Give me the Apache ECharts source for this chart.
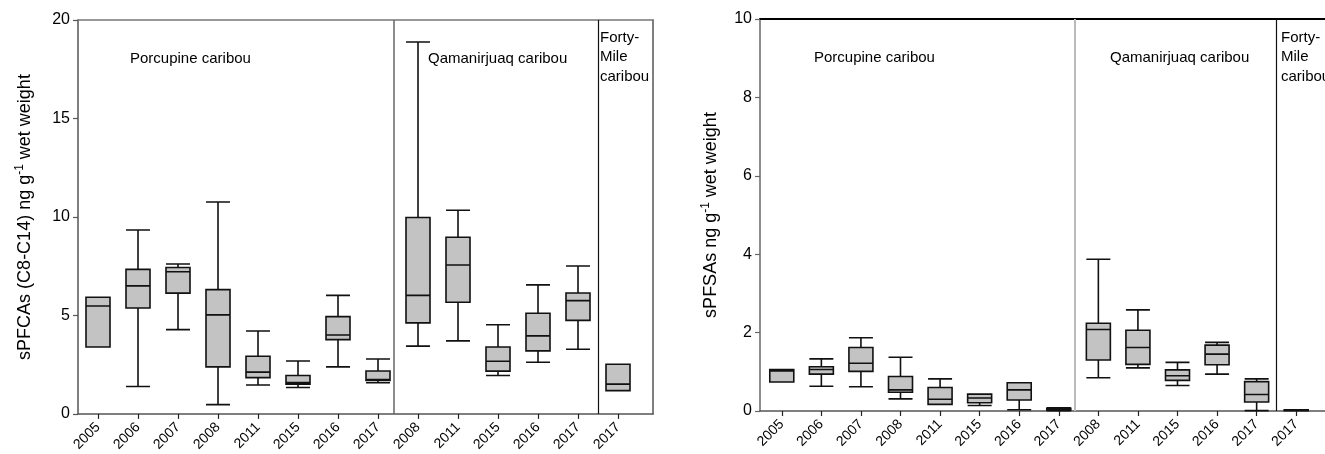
<!DOCTYPE html>
<html><head><meta charset="utf-8">
<script src="https://cdn.jsdelivr.net/npm/echarts@6/dist/echarts.min.js"></script>
<style>html,body{margin:0;padding:0;background:#fff}#c{width:1325px;height:454px}</style>
</head><body><div id="c"></div>
<script>
// ---- data ----
const categories = ['2005','2006','2007','2008','2011','2015','2016','2017','2008','2011','2015','2016','2017','2017'];
// each box: [min, Q1, median, Q3, max]
const pfcaBoxes = [
  [3.40, 3.40, 5.48, 5.92, 5.92],
  [1.39, 5.38, 6.50, 7.34, 9.34],
  [4.28, 6.13, 7.22, 7.43, 7.61],
  [0.47, 2.39, 5.03, 6.31, 10.76],
  [1.47, 1.84, 2.12, 2.93, 4.21],
  [1.34, 1.51, 1.59, 1.95, 2.69],
  [2.39, 3.77, 4.01, 4.94, 6.02],
  [1.58, 1.70, 1.75, 2.18, 2.79],
  [3.44, 4.62, 6.02, 9.97, 18.88],
  [3.71, 5.67, 7.56, 8.97, 10.34],
  [1.95, 2.17, 2.67, 3.40, 4.53],
  [2.62, 3.20, 3.96, 5.11, 6.55],
  [3.28, 4.75, 5.75, 6.14, 7.51],
  [1.18, 1.18, 1.51, 2.52, 2.52]
];
const pfsaBoxes = [
  [0.74, 0.74, 1.02, 1.06, 1.06],
  [0.63, 0.94, 1.06, 1.13, 1.33],
  [0.62, 1.01, 1.22, 1.62, 1.87],
  [0.31, 0.48, 0.54, 0.88, 1.37],
  [0.17, 0.17, 0.30, 0.60, 0.82],
  [0.14, 0.21, 0.33, 0.43, 0.43],
  [0.03, 0.28, 0.54, 0.72, 0.72],
  [0.01, 0.02, 0.04, 0.07, 0.08],
  [0.85, 1.30, 2.08, 2.24, 3.87],
  [1.10, 1.19, 1.62, 2.06, 2.58],
  [0.65, 0.78, 0.90, 1.05, 1.24],
  [0.94, 1.18, 1.45, 1.68, 1.75],
  [0.01, 0.23, 0.42, 0.75, 0.82],
  [0.01, 0.01, 0.02, 0.03, 0.03]
];
const pfcaTicks = { min: 0, max: 20, interval: 5 };
const pfsaTicks = { min: 0, max: 10, interval: 2 };
const dividerPos = [7.4, 12.5];
const groupLabels = ['Porcupine caribou', 'Qamanirjuaq caribou', 'Forty-\nMile\ncaribou'];
const pfcaTitle = '{a|sPFCAs (C8-C14) ng g}{s|-1}{a| wet weight}';
const pfsaTitle = '{a|sPFSAs ng g}{s|-1}{a| wet weight}';

// ---- chart ----
const FONT = '"Liberation Sans", Arial, sans-serif';
const chart = echarts.init(document.getElementById('c'), null, { renderer: 'canvas' });

const option = { animation: false, backgroundColor: '#fff', grid: [], xAxis: [], yAxis: [], series: [], graphic: [] };

function panel(p) {
  const gFrame = option.grid.length;
  option.grid.push({ left: p.left, top: p.top, width: p.frameWidth, height: p.height });
  const gData = option.grid.length;
  option.grid.push({ left: p.dataLeft, top: p.top, width: p.dataWidth, height: p.height });

  const xi = option.xAxis.length;
  // frame bottom & top lines
  option.xAxis.push({ gridIndex: gFrame, type: 'value', min: 0, max: 1, position: 'bottom',
    axisLine: { show: true, onZero: false, lineStyle: { color: p.bottomColor, width: 1.5 } },
    axisTick: { show: false }, axisLabel: { show: false }, splitLine: { show: false } });
  option.xAxis.push({ gridIndex: gFrame, type: 'value', min: 0, max: 1, position: 'top',
    axisLine: { show: true, onZero: false, lineStyle: { color: p.topColor, width: p.topWidth } },
    axisTick: { show: false }, axisLabel: { show: false }, splitLine: { show: false } });
  // category axis (data)
  option.xAxis.push({ gridIndex: gData, type: 'category', data: categories, position: 'bottom',
    axisLine: { show: false, onZero: false },
    axisTick: { show: true, alignWithLabel: true, length: 5, lineStyle: { color: '#222', width: 1.2 } },
    axisLabel: { interval: 0, rotate: 45, fontSize: 14, color: '#000', fontFamily: FONT, margin: 11 },
    splitLine: { show: false } });
  // hidden value axis for dividers
  option.xAxis.push({ gridIndex: gData, type: 'value', min: -0.5, max: categories.length - 0.5, show: false });

  const yi = option.yAxis.length;
  option.yAxis.push({ gridIndex: gFrame, type: 'value', min: p.ticks.min, max: p.ticks.max, interval: p.ticks.interval,
    position: 'left',
    name: p.title, nameLocation: 'middle', nameGap: p.nameGap,
    nameTextStyle: { color: '#000', fontFamily: FONT, fontSize: 18, lineHeight: 22,
      rich: { a: { fontSize: 18, fontFamily: FONT, color: '#000', lineHeight: 22 },
              s: { fontSize: 12, fontFamily: FONT, color: '#000', lineHeight: 12, verticalAlign: 'top' } } },
    axisLine: { show: true, onZero: false, lineStyle: { color: p.yColor, width: 1.5 } },
    axisTick: { show: true, length: 5, lineStyle: { color: p.yColor, width: 1.2 } },
    axisLabel: { fontSize: 16, color: '#000', fontFamily: FONT, margin: 8 },
    splitLine: { show: false } });
  option.yAxis.push({ gridIndex: gFrame, type: 'value', min: p.ticks.min, max: p.ticks.max, position: 'right',
    show: p.rightShow,
    axisLine: { show: true, onZero: false, lineStyle: { color: p.rightColor, width: 1.5 } },
    axisTick: { show: false }, axisLabel: { show: false }, splitLine: { show: false } });
  option.yAxis.push({ gridIndex: gData, type: 'value', min: p.ticks.min, max: p.ticks.max, show: false });

  option.series.push({
    type: 'boxplot', xAxisIndex: xi + 2, yAxisIndex: yi + 2,
    data: p.boxes, boxWidth: [24, 24], silent: true,
    itemStyle: { color: '#c3c3c3', borderColor: '#111', borderWidth: 1.6 },
    emphasis: { disabled: true }
  });
  option.series.push({
    type: 'line', xAxisIndex: xi + 3, yAxisIndex: yi + 2, data: [], silent: true,
    markLine: { symbol: 'none', silent: true, label: { show: false }, animation: false,
      data: dividerPos.map((v, i) => ({ xAxis: v, lineStyle: { type: 'solid', color: p.divColors[i], width: p.divWidths[i] } })) }
  });

  groupLabels.forEach((t, i) => {
    option.graphic.push({ type: 'text', left: p.labelX[i], top: p.labelY[i], silent: true,
      style: { text: t, fontSize: 15, fontFamily: FONT, fill: '#000', lineHeight: 19.5 } });
  });
}

panel({ left: 78, top: 20, height: 394, frameWidth: 575, dataLeft: 78, dataWidth: 560,
  ticks: pfcaTicks, title: pfcaTitle, nameGap: 42, boxes: pfcaBoxes,
  bottomColor: '#555', topColor: '#777', topWidth: 1.5, yColor: '#555', rightColor: '#555', rightShow: true,
  divColors: ['#666', '#111'], divWidths: [1.5, 1.2],
  labelX: [130, 428, 600], labelY: [49, 49, 28] });

panel({ left: 760, top: 19, height: 392, frameWidth: 575, dataLeft: 762, dataWidth: 554,
  ticks: pfsaTicks, title: pfsaTitle, nameGap: 38, boxes: pfsaBoxes,
  bottomColor: '#555', topColor: '#000', topWidth: 2, yColor: '#666', rightColor: '#000', rightShow: false,
  divColors: ['#bbb', '#111'], divWidths: [2, 1.2],
  labelX: [814, 1110, 1281], labelY: [48, 48, 28] });

chart.setOption(option);
</script>
</body></html>
